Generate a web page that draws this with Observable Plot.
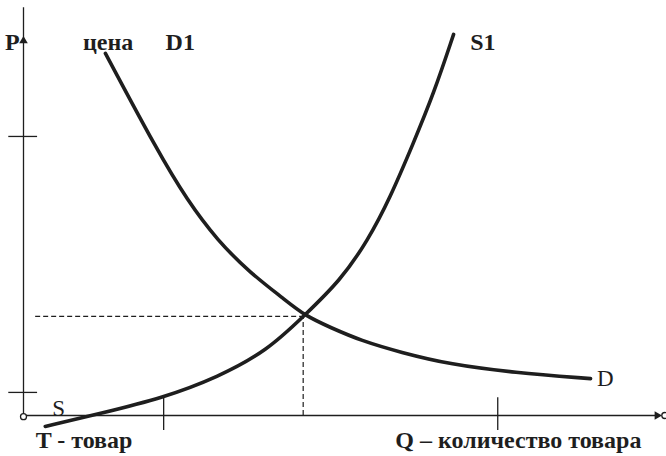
<!DOCTYPE html>
<html>
<head>
<meta charset="utf-8">
<script src="https://cdn.jsdelivr.net/npm/d3@7"></script>
<script src="https://cdn.jsdelivr.net/npm/@observablehq/plot@0.6"></script>
<style>
  html, body { margin: 0; padding: 0; background: #fff; }
  #chart svg { display: block; }
</style>
</head>
<body>
<div id="chart"></div>
<script>
// Demand curve D1 → D (quantity, price)
const demandQ = [1.28, 2.09, 2.56, 3.03, 3.55, 4.06, 4.39, 4.80, 5.27, 5.89, 6.67, 7.66, 8.86];
const demandP = [8.94, 6.54, 5.31, 4.32, 3.51, 2.89, 2.47, 2.17, 1.85, 1.56, 1.26, 1.06, 0.91];
// Supply curve S → S1
const supplyQ = [0.34, 1.20, 2.19, 3.03, 3.81, 4.39, 4.95, 5.38, 5.73, 6.09, 6.41, 6.72];
const supplyP = [-0.27, 0.05, 0.44, 0.94, 1.60, 2.47, 3.33, 4.32, 5.38, 6.72, 7.95, 9.41];
// Equilibrium point
const eqQ = 4.37;
const eqP = 2.45;
// Axis tick marks
const priceTicks = [0.57, 6.89];
const quantityTicks = [2.19, 7.41];
// Labels and their anchors (in data units)
const labelText = ["P", "цена", "D1", "S1", "D", "S", "T - товар", "Q – количество товара"];
const labelQ = [-0.29, 0.93, 2.22, 6.98, 8.96, 0.45, 0.19, 5.81];
const labelP = [9.22, 9.22, 9.22, 9.22, 0.91, 0.18, -0.62, -0.62];
const labelBold = [true, true, true, true, false, false, true, true];

const demand = demandQ.map((q, i) => ({q, p: demandP[i]}));
const supply = supplyQ.map((q, i) => ({q, p: supplyP[i]}));
const labels = labelText.map((t, i) => ({t, q: labelQ[i], p: labelP[i], bold: labelBold[i]}));

const ink = "#1e1e1e";

const chart = Plot.plot({
  width: 666,
  height: 456,
  marginLeft: 23,
  marginRight: 3,
  marginTop: 10,
  marginBottom: 41,
  x: {domain: [0, 10], axis: null},
  y: {domain: [0, 10], axis: null},
  style: {background: "#fff"},
  marks: [
    // axes
    Plot.ruleX([0], {y1: -0.05, y2: 10.07, stroke: ink, strokeWidth: 1.3}),
    Plot.ruleY([0], {x1: 0, x2: 9.9, stroke: ink, strokeWidth: 1.3}),
    // ticks
    Plot.ruleY(priceTicks, {x1: -0.23, x2: 0.22, stroke: ink, strokeWidth: 1.3}),
    Plot.ruleX(quantityTicks, {y1: 0.44, y2: -0.37, stroke: ink, strokeWidth: 1.3}),
    // arrowheads
    Plot.dot([{q: 9.9, p: 0}], {x: "q", y: "p", symbol: "triangle", r: 3.2, fill: ink, stroke: null, rotate: 90}),
    Plot.dot([{q: 0, p: 9.25}], {x: "q", y: "p", symbol: "triangle", r: 3.2, fill: ink, stroke: null}),
    Plot.dot([{q: 0, p: -0.03}, {q: 10.02, p: 0}], {x: "q", y: "p", r: 3, fill: "#fff", stroke: ink, strokeWidth: 1.3}),
    // equilibrium guides
    Plot.ruleY([eqP], {x1: 0.19, x2: eqQ, stroke: ink, strokeWidth: 1.2, strokeDasharray: "5,3"}),
    Plot.ruleX([eqQ], {y1: 0, y2: eqP, stroke: ink, strokeWidth: 1.2, strokeDasharray: "5,3"}),
    // curves
    Plot.line(demand, {x: "q", y: "p", curve: "basis", stroke: ink, strokeWidth: 3.6}),
    Plot.line(supply, {x: "q", y: "p", curve: "basis", stroke: ink, strokeWidth: 3.6}),
    // labels
    Plot.text(labels.filter(d => d.bold), {x: "q", y: "p", text: "t", textAnchor: "start", lineAnchor: "middle",
      fontFamily: "Liberation Serif", fontWeight: "bold", fontSize: 24, fill: ink}),
    Plot.text(labels.filter(d => !d.bold), {x: "q", y: "p", text: "t", textAnchor: "start", lineAnchor: "middle",
      fontFamily: "Liberation Serif", fontSize: 23, fill: ink})
  ]
});
document.getElementById("chart").appendChild(chart);
</script>
</body>
</html>
